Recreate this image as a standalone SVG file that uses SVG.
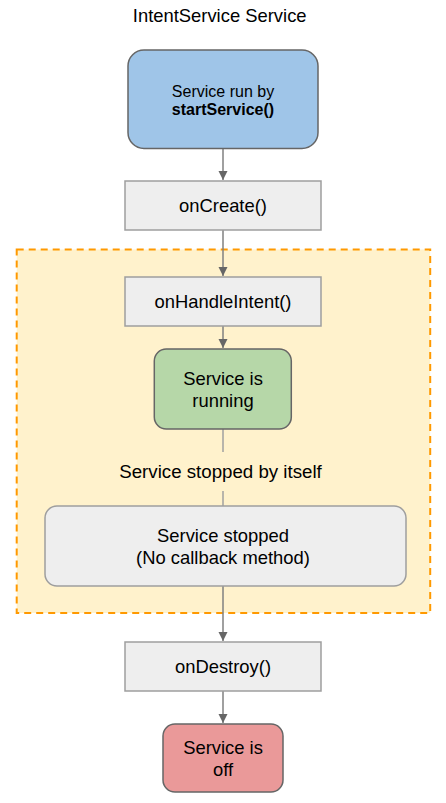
<svg xmlns="http://www.w3.org/2000/svg" width="446" height="803" viewBox="0 0 446 803">
<style>
text{font-family:"Liberation Sans",Arial,sans-serif;fill:#000;text-anchor:middle}
.t18{font-size:18.4px}
.t16{font-size:16px}
.box{fill:#eeeeee;stroke:#9e9e9e;stroke-width:1.5}
.conn{stroke:#808080;stroke-width:1.5;fill:none}
.connl{stroke:#a0a0a0;stroke-width:1.5;fill:none}
</style>
<defs>
<marker id="arr" markerWidth="10" markerHeight="10" refX="9" refY="5" orient="auto" markerUnits="userSpaceOnUse">
<path d="M0,0.5 L9,5 L0,9.5 z" fill="#666"/>
</marker>
</defs>
<rect width="446" height="803" fill="#fff"/>
<text class="t18" x="219.7" y="22">IntentService Service</text>
<g id="container">
<rect x="16.7" y="249.5" width="413.5" height="363.5" fill="#fff2cc" stroke="#ff9900" stroke-width="2" stroke-dasharray="7,5"/>
</g>
<g id="connectors">
<line class="conn" x1="223" y1="149" x2="223" y2="180" marker-end="url(#arr)"/>
<line class="conn" x1="223" y1="230" x2="223" y2="276" marker-end="url(#arr)"/>
<line class="conn" x1="223" y1="326" x2="223" y2="348" marker-end="url(#arr)"/>
<line class="connl" x1="223" y1="429" x2="223" y2="452"/>
<line class="connl" x1="223" y1="491" x2="223" y2="506"/>
<line class="conn" x1="223" y1="586" x2="223" y2="641" marker-end="url(#arr)"/>
<line class="conn" x1="223" y1="691" x2="223" y2="723" marker-end="url(#arr)"/>
<text x="220.5" y="478" style="font-size:18.7px">Service stopped by itself</text>
</g>
<g id="start">
<rect x="128" y="50" width="190" height="98.5" rx="16" fill="#9fc5e8" stroke="#666" stroke-width="1.5"/>
<text class="t16" x="223" y="97">Service run by</text>
<text class="t16" x="223" y="115" font-weight="bold">startService()</text>
</g>
<g id="onCreate">
<rect class="box" x="125" y="181" width="196" height="49"/>
<text class="t18" x="223" y="212">onCreate()</text>
</g>
<g id="onHandleIntent">
<rect class="box" x="125" y="277" width="196" height="49"/>
<text class="t18" x="223" y="308">onHandleIntent()</text>
</g>
<g id="running">
<rect x="154.3" y="349" width="137" height="80" rx="12" fill="#b6d7a8" stroke="#666" stroke-width="1.5"/>
<text class="t18" x="223" y="385">Service is</text>
<text class="t18" x="223" y="407">running</text>
</g>
<g id="stopped">
<rect class="box" x="45" y="506" width="361" height="80" rx="12"/>
<text class="t18" x="223" y="542">Service stopped</text>
<text class="t18" x="223" y="564">(No callback method)</text>
</g>
<g id="onDestroy">
<rect class="box" x="125" y="642" width="196" height="49"/>
<text class="t18" x="223" y="673">onDestroy()</text>
</g>
<g id="off">
<rect x="163" y="724" width="120" height="68" rx="12" fill="#ea9999" stroke="#666" stroke-width="1.5"/>
<text class="t18" x="223" y="754">Service is</text>
<text class="t18" x="223" y="776">off</text>
</g>
</svg>
